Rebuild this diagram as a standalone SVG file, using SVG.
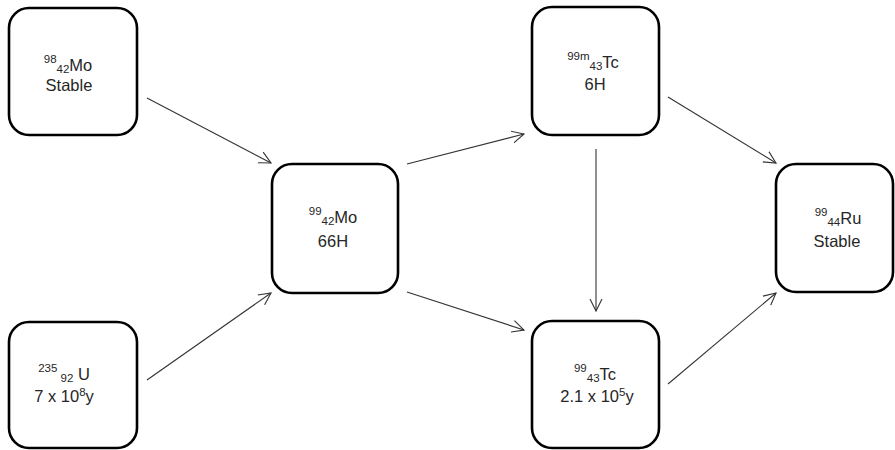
<svg xmlns="http://www.w3.org/2000/svg" width="895" height="450" viewBox="0 0 895 450">
<style>
.box{fill:#fff;stroke:#000;stroke-width:2.6}
text{font-family:"Liberation Sans",Arial,sans-serif;font-size:16.5px;fill:#262626;text-anchor:middle}
.s{font-size:11.5px}
.c{stroke:#333;stroke-width:1.1;fill:none;marker-end:url(#a)}
</style>
<defs>
<marker id="a" markerWidth="14" markerHeight="14" refX="12" refY="6" orient="auto" markerUnits="userSpaceOnUse" viewBox="0 0 14 12">
<path d="M0,0 L12,6 L0,12" fill="none" stroke="#333" stroke-width="1.1"/>
</marker>
</defs>
<rect width="895" height="450" fill="#fff"/>
<g id="connectors">
<line class="c" x1="147" y1="98" x2="271" y2="163"/>
<line class="c" x1="147" y1="380" x2="271" y2="293"/>
<line class="c" x1="407" y1="164" x2="524" y2="134"/>
<line class="c" x1="407" y1="292" x2="524" y2="330"/>
<line class="c" x1="596" y1="149" x2="596" y2="311"/>
<line class="c" x1="668" y1="97" x2="776" y2="163"/>
<line class="c" x1="668" y1="384" x2="776" y2="293"/>
</g>
<g id="mo98">
<rect class="box" x="9" y="8" width="128" height="127" rx="20"/>
<text x="68" y="71"><tspan class="s" dy="-8">98</tspan><tspan class="s" dy="10">42</tspan><tspan dy="-2">Mo</tspan></text>
<text x="69" y="91">Stable</text>
</g>
<g id="u235">
<rect class="box" x="9" y="322" width="128" height="126" rx="20"/>
<text x="64" y="380"><tspan class="s" dy="-8">235</tspan><tspan class="s" dy="10"> 92</tspan><tspan dy="-2"> U</tspan></text>
<text x="64" y="402">7 x 10<tspan class="s" dy="-6">8</tspan><tspan dy="6">y</tspan></text>
</g>
<g id="mo99">
<rect class="box" x="272" y="164" width="126" height="129" rx="20"/>
<text x="333" y="223"><tspan class="s" dy="-8">99</tspan><tspan class="s" dy="10">42</tspan><tspan dy="-2">Mo</tspan></text>
<text x="333" y="247">66H</text>
</g>
<g id="tc99m">
<rect class="box" x="532" y="7" width="127" height="128" rx="20"/>
<text x="593" y="68"><tspan class="s" dy="-8">99m</tspan><tspan class="s" dy="10">43</tspan><tspan dy="-2">Tc</tspan></text>
<text x="595" y="90">6H</text>
</g>
<g id="tc99">
<rect class="box" x="532" y="321" width="127" height="127" rx="20"/>
<text x="595" y="380"><tspan class="s" dy="-8">99</tspan><tspan class="s" dy="10">43</tspan><tspan dy="-2">Tc</tspan></text>
<text x="597" y="402">2.1 x 10<tspan class="s" dy="-6">5</tspan><tspan dy="6">y</tspan></text>
</g>
<g id="ru99">
<rect class="box" x="776" y="164" width="117" height="128" rx="20"/>
<text x="838" y="224"><tspan class="s" dy="-8">99</tspan><tspan class="s" dy="10">44</tspan><tspan dy="-2">Ru</tspan></text>
<text x="837" y="247">Stable</text>
</g>
</svg>
